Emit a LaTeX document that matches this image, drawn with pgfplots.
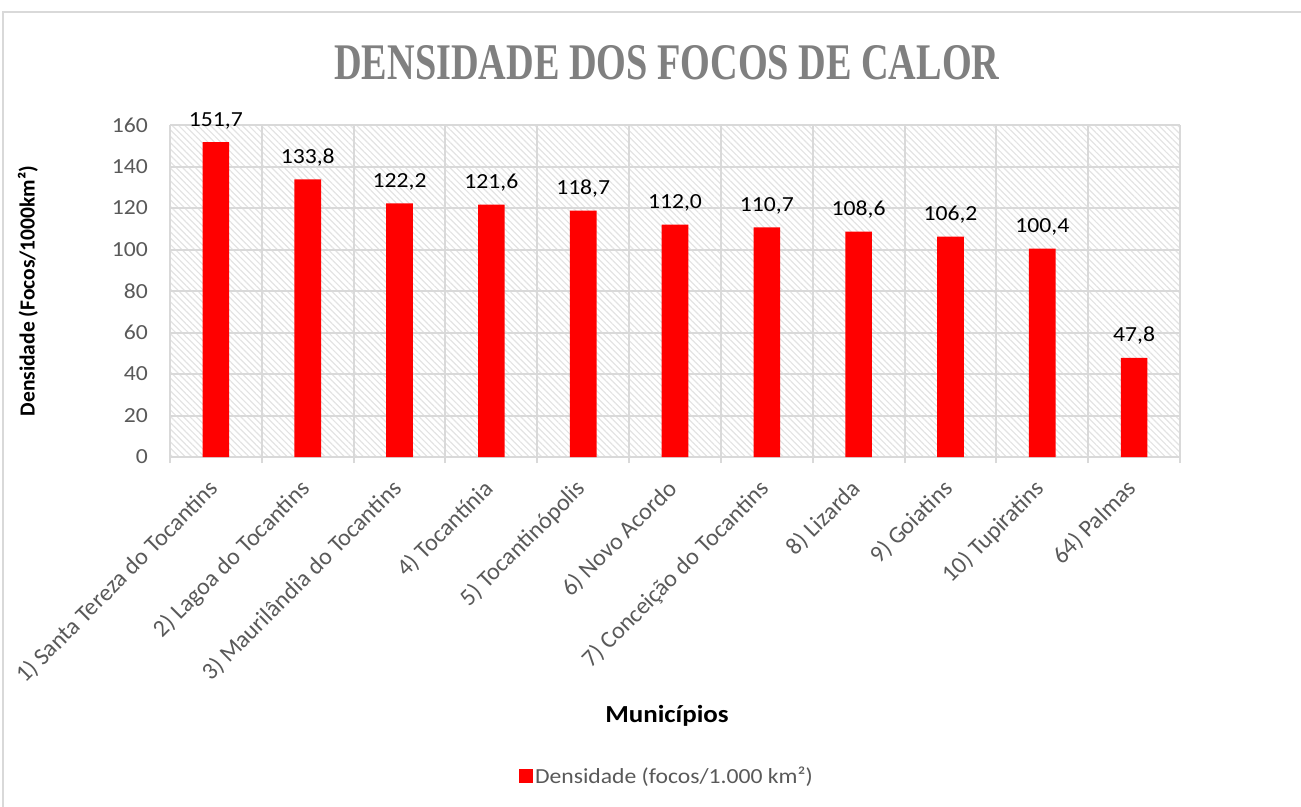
\documentclass[border=0pt]{standalone}
\usepackage{fontspec}
\setmainfont{Carlito}
\newfontfamily\wide{Carlito}[FakeStretch=1.1]
\newfontfamily\titlefont{Liberation Serif}
\usepackage{pgfplots}
\pgfplotsset{compat=1.18}
\usetikzlibrary{patterns.meta}
\definecolor{gridgray}{HTML}{D9D9D9}
\definecolor{ticktext}{HTML}{595959}
\definecolor{titlegray}{HTML}{808080}
\definecolor{barred}{HTML}{FF0000}
\begin{document}
\begin{tikzpicture}[x=1bp,y=1bp]
\path[use as bounding box] (0,0) rectangle (1301,-806);
\draw[gridgray, line width=1.5bp] (3,-12) rectangle (1320,-830);
\begin{axis}[
  scale only axis,
  width=1010bp, height=332bp,
  at={(170bp,-457bp)}, anchor=south west,
  ybar, bar width=0.29,
  xmin=-0.5, xmax=10.5,
  ymin=0, ymax=160,
  xtick={0,1,2,3,4,5,6,7,8,9,10},
  minor xtick={-0.5,0.5,1.5,2.5,3.5,4.5,5.5,6.5,7.5,8.5,9.5,10.5},
  xticklabels={1) Santa Tereza do Tocantins, 2) Lagoa do Tocantins, 3) Maurilândia do Tocantins, 4) Tocantínia, 5) Tocantinópolis, 6) Novo Acordo, 7) Conceição do Tocantins, 8) Lizarda, 9) Goiatins, 10) Tupiratins, 64) Palmas},
  ytick={0,20,...,160},
  ymajorgrids, xminorgrids,
  grid style={draw=gridgray, line width=2bp},
  minor grid style={draw=gridgray, line width=2bp},
  axis x line*=bottom, axis y line*=left,
  x axis line style={draw=gridgray, line width=2bp, -},
  y axis line style={draw=none},
  major tick length=0pt,
  minor tick length=6bp,
  tick align=outside,
  minor x tick style={draw=gridgray, line width=2bp},
  /pgf/number format/assume math mode=true,
  yticklabel style={font=\wide\fontsize{21.5bp}{25bp}\selectfont, text=ticktext, anchor=east, inner sep=0pt, xshift=-22bp},
  xticklabel style={font=\fontsize{24bp}{28bp}\selectfont, text=ticktext, rotate=45, anchor=north east, inner sep=0pt, xshift=-21bp, yshift=-8bp},
  axis background/.style={pattern={Lines[angle=-45,distance=4.5bp,line width=1.2bp]}, pattern color=gray!22},
  nodes near coords={\pgfmathprintnumber[fixed,fixed zerofill,precision=1,use comma,assume math mode=true]{\pgfplotspointmeta}},
  every node near coord/.append style={font=\wide\fontsize{21.5bp}{25bp}\selectfont, text=black, anchor=base, yshift=16bp, inner sep=0pt},
  title={\titlefont\bfseries\color{titlegray}\resizebox{665bp}{34bp}{DENSIDADE DOS FOCOS DE CALOR}},
  every axis title/.style={at={(axis description cs:0.492,1.188)}, anchor=center},
  xlabel={\bfseries Municípios},
  every axis x label/.style={at={(axis description cs:0.492,-0.780)}, anchor=center, font=\wide\fontsize{24.5bp}{30bp}\selectfont},
  ylabel={\bfseries Densidade (Focos/1000km²)},
  every axis y label/.style={at={(axis description cs:-0.1406,0.5)}, rotate=90, anchor=center, font=\fontsize{21.5bp}{25bp}\selectfont},
  legend style={at={(axis description cs:0.492,-0.961)}, anchor=center, draw=none, fill=none, font=\wide\fontsize{21.5bp}{26bp}\selectfont, text=ticktext},
  legend image code/.code={\fill[barred] (-6bp,-7bp) rectangle (8bp,7bp);},
]
\addplot[fill=barred, draw=none] coordinates {
 (0,151.7) (1,133.8) (2,122.2) (3,121.6) (4,118.7) (5,112.0)
 (6,110.7) (7,108.6) (8,106.2) (9,100.4) (10,47.8)};
\addlegendentry{Densidade (focos/1.000 km²)}
\end{axis}
\end{tikzpicture}
\end{document}
